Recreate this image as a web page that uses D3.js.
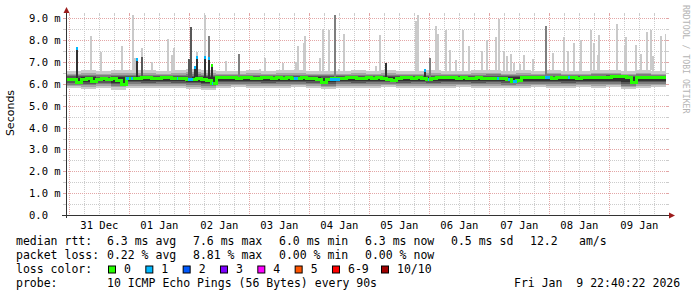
<!DOCTYPE html>
<html>
<head>
<meta charset="utf-8">
<script src="https://cdn.jsdelivr.net/npm/d3@7"></script>
<style>
body { margin: 0; background: #fff; }
svg { display: block; }
.mono { font-family: 'DejaVu Sans Mono', monospace; white-space: pre; fill: #000; }
</style>
</head>
<body>
<div class="chart"></div>
<script>
// SmokePing 10 day graph, 10 pings every 90s
const START = new Date(2025, 11, 30, 22, 40, 22)
const END = new Date(2026, 0, 9, 22, 40, 22)

// median rtt (ms), one value every 2 hours
const MEDIAN = [
  6.22, 6.20, 6.08, 6.20, 6.24, 6.10, 6.22, 6.25, 6.20, 6.24,
  6.14, 5.97, 6.24, 6.27, 6.25, 6.28, 6.30, 6.26, 6.24, 6.28,
  6.30, 6.27, 6.25, 6.27, 6.22, 6.20, 6.24, 6.22, 6.18, 6.02,
  6.30, 6.32, 6.28, 6.30, 6.27, 6.29, 6.31, 6.27, 6.25, 6.28,
  6.30, 6.26, 6.28, 6.25, 6.28, 6.26, 6.24, 6.28, 6.27, 6.25,
  6.20, 6.08, 6.20, 6.25, 6.27, 6.26, 6.28, 6.30, 6.27, 6.25,
  6.28, 6.26, 6.28, 6.24, 6.22, 6.18, 6.25, 6.28, 6.30, 6.27,
  6.29, 6.26, 6.22, 6.27, 6.30, 6.28, 6.31, 6.28, 6.26, 6.29,
  6.27, 6.25, 6.28, 6.26, 6.24, 6.27, 6.25, 6.24, 6.22, 6.12,
  6.16, 6.28, 6.30, 6.28, 6.31, 6.29, 6.30, 6.27, 6.29, 6.31,
  6.28, 6.30, 6.27, 6.29, 6.31, 6.28, 6.30, 6.32, 6.29, 6.33,
  6.35, 6.33, 6.30, 6.05, 6.28, 6.30, 6.28, 6.30, 6.29, 6.28
]

// sorted pings p1 (fastest) .. p10 (slowest), one value every 6 hours
const P1 = [5.80,5.78,5.82,5.74,5.83,5.82,5.82,5.80,5.76,5.72,5.83,5.84,5.82,5.82,5.83,5.84,5.82,5.76,5.83,5.82,
            5.83,5.84,5.82,5.83,5.82,5.83,5.84,5.82,5.83,5.80,5.83,5.84,5.83,5.82,5.84,5.83,5.84,5.76,5.83,5.84]
const P2 = [5.90,5.88,5.92,5.85,5.93,5.92,5.93,5.91,5.88,5.83,5.93,5.94,5.93,5.92,5.93,5.94,5.92,5.86,5.93,5.92,
            5.93,5.94,5.92,5.93,5.92,5.93,5.94,5.92,5.93,5.90,5.93,5.94,5.93,5.92,5.94,5.93,5.94,5.86,5.93,5.94]
const P3 = [5.97,5.95,5.99,5.92,6.00,5.99,6.00,5.98,5.95,5.90,6.00,6.01,6.00,5.99,6.00,6.01,5.99,5.93,6.00,5.99,
            6.00,6.01,5.99,6.00,5.99,6.00,6.01,5.99,6.00,5.97,6.00,6.01,6.00,5.99,6.01,6.00,6.01,5.93,6.00,6.01]
const P4 = [6.04,6.02,6.06,5.98,6.07,6.06,6.07,6.05,6.03,5.98,6.07,6.08,6.07,6.06,6.07,6.08,6.06,6.00,6.07,6.06,
            6.07,6.08,6.06,6.07,6.06,6.07,6.08,6.06,6.07,6.04,6.07,6.08,6.07,6.06,6.08,6.07,6.08,6.00,6.07,6.08]
const P5 = [6.12,6.10,6.14,6.06,6.15,6.14,6.15,6.13,6.11,6.06,6.15,6.16,6.15,6.14,6.15,6.16,6.14,6.08,6.15,6.14,
            6.15,6.16,6.14,6.15,6.14,6.15,6.16,6.14,6.15,6.12,6.15,6.16,6.15,6.14,6.16,6.15,6.16,6.08,6.15,6.16]
const P6 = [6.29,6.30,6.28,6.31,6.30,6.31,6.29,6.31,6.32,6.30,6.30,6.29,6.31,6.30,6.31,6.31,6.30,6.29,6.30,6.31,
            6.29,6.31,6.30,6.29,6.31,6.30,6.29,6.31,6.32,6.30,6.31,6.30,6.32,6.31,6.30,6.32,6.34,6.31,6.32,6.30]
const P7 = [6.35,6.36,6.34,6.37,6.36,6.37,6.35,6.37,6.38,6.36,6.36,6.35,6.37,6.36,6.37,6.37,6.36,6.35,6.36,6.37,
            6.35,6.37,6.36,6.35,6.37,6.36,6.35,6.37,6.38,6.36,6.37,6.36,6.38,6.37,6.36,6.38,6.40,6.37,6.38,6.36]
const P8 = [6.41,6.42,6.40,6.43,6.42,6.43,6.41,6.43,6.45,6.42,6.42,6.41,6.43,6.42,6.43,6.43,6.42,6.41,6.42,6.43,
            6.41,6.43,6.42,6.41,6.43,6.42,6.41,6.43,6.44,6.42,6.43,6.42,6.44,6.43,6.42,6.44,6.46,6.43,6.44,6.42]
const P9 = [6.48,6.50,6.48,6.52,6.50,6.52,6.48,6.52,6.54,6.50,6.48,6.47,6.50,6.48,6.50,6.50,6.48,6.47,6.48,6.50,
            6.47,6.50,6.48,6.47,6.50,6.48,6.47,6.50,6.52,6.48,6.50,6.47,6.50,6.48,6.47,6.50,6.52,6.48,6.50,6.47]
const P10 = [6.58,6.62,6.60,6.66,6.62,6.64,6.60,6.66,6.68,6.62,6.60,6.58,6.62,6.60,6.64,6.62,6.60,6.58,6.60,6.62,
             6.58,6.62,6.60,6.58,6.62,6.60,6.58,6.62,6.64,6.60,6.62,6.58,6.62,6.60,6.58,6.62,6.64,6.60,6.62,6.58]

// slowest ping peaks: hours after start, ms
const PEAK_T = [9.4, 13.6, 22.0, 26.2, 27.2, 29.9, 34.0, 40.4, 42.0, 42.6, 48.6, 52.0, 55.1, 56.6, 63.6,
                77.2, 79.0, 86.2, 91.6, 92.2, 94.6, 95.2, 101.2, 102.4, 104.8, 108.6, 110.6, 123.6, 125.2,
                139.4, 140.2, 145.2, 147.6, 148.2, 151.6, 153.2, 155.7, 158.3, 160.7, 166.0, 168.0, 171.6,
                172.8, 174.7, 175.8, 177.6, 178.8, 181.0, 182.8, 186.5, 191.6, 194.4, 198.6, 200.3, 202.7,
                205.2, 205.6, 209.5, 210.7, 212.5, 212.9, 214.9, 219.1, 220.1, 223.2, 223.6, 227.5, 229.6,
                232.1, 233.4, 234.5, 237.6, 239.6]
const PEAK_V = [8.20, 7.48, 7.74, 9.30, 7.20, 7.66, 7.00, 8.06, 7.33, 7.66, 7.15, 7.48, 9.30, 7.50, 7.05,
                6.70, 7.20, 6.95, 7.00, 7.74, 7.90, 8.20, 7.20, 8.52, 8.46, 6.70, 8.30, 6.82, 8.25,
                8.90, 9.30, 6.87, 8.66, 8.30, 8.47, 7.56, 7.10, 8.47, 7.74, 7.51, 8.02, 8.15,
                8.98, 7.51, 7.28, 7.36, 6.98, 6.90, 7.33, 7.14, 7.36, 7.43, 8.14, 7.51, 7.90,
                7.02, 8.02, 8.47, 7.90, 7.33, 8.25, 6.64, 6.64, 8.75, 7.74, 8.14, 7.79, 7.36,
                8.40, 8.47, 7.30, 8.20, 8.30]

// several slow pings at once: hours, ms, rank of the ping reaching that value
const BURST_T = [29.9, 48.6, 49.4, 56.7, 68.8, 107.2, 127.6, 145.2, 191.4]
const BURST_V = [7.25, 7.15, 8.60, 8.20, 7.36, 9.30, 6.98, 7.20, 8.66]
const BURST_RANK = [7, 7, 7, 8, 8, 8, 6, 8, 8]

// median jumps: hours, ms, lost pings
const JUMP_T = [3.9, 28.0, 51.3, 52.0, 55.0, 56.7, 58.0, 143.2]
const JUMP_V = [7.64, 7.13, 6.80, 7.25, 7.25, 7.17, 6.87, 6.64]
const JUMP_LOSS = [1, 1, 1, 1, 1, 1, 0, 1]

// periods with packet loss: from hour, to hour, lost pings
const LOSS_FROM = [24.0, 26.0, 44.2, 48.8, 58.2, 91.2, 105.6, 144.6, 172.4, 176.8, 178.8, 191.6, 200.8]
const LOSS_TO = [25.2, 26.8, 44.8, 50.8, 58.8, 92.8, 109.6, 145.2, 172.8, 177.6, 180.4, 193.6, 201.6]
const LOSS_N = [1, 1, 1, 1, 1, 1, 1, 1, 1, 1, 1, 1, 1]

const Y_TICKS = [0, 1, 2, 3, 4, 5, 6, 7, 8, 9]
const Y_LABELS = ['0.0', '1.0 m', '2.0 m', '3.0 m', '4.0 m', '5.0 m', '6.0 m', '7.0 m', '8.0 m', '9.0 m']
const DAY_LABELS = ['31 Dec', '01 Jan', '02 Jan', '03 Jan', '04 Jan', '05 Jan', '06 Jan', '07 Jan', '08 Jan', '09 Jan']

const LOSS_KEYS = ['0', '1', '2', '3', '4', '5', '6-9', '10/10']
const LOSS_COLORS = ['#26ff00', '#00b8ff', '#0059ff', '#7e00ff', '#ff00ff', '#ff5500', '#ff0000', '#a10000']
const SMOKE_COLORS = ['#cacaca', '#a4a4a4', '#7e7e7e', '#585858', '#323232']

const RTT_STATS = ['6.3 ms avg', '7.6 ms max', '6.0 ms min', '6.3 ms now', '0.5 ms sd']
const LOSS_STATS = ['0.22 % avg', '8.81 % max', '0.00 % min', '0.00 % now']
const AMS = '12.2'
const PROBE = '10 ICMP Echo Pings (56 Bytes) every 90s'
const STAMP = 'Fri Jan  9 22:40:22 2026'

const PINGS = [P1, P2, P3, P4, P5, P6, P7, P8, P9, P10]

var svg = d3.select('.chart').append('svg')
    .attr('width', 697)
    .attr('height', 297)

svg.append('rect').attr('width', 697).attr('height', 297).attr('fill', '#fff')

var xScale = d3.scaleTime().domain([START, END]).range([66, 666])
var yScale = d3.scaleLinear().domain([0, 9.16]).range([215, 15])

var hr = h => new Date(START.getTime() + h * 3600e3)
var lossColor = n => LOSS_COLORS[n >= 10 ? 7 : n >= 6 ? 6 : n]
var medianAt = h => MEDIAN[Math.min(MEDIAN.length - 1, Math.floor(h / 2))]
var pingAt = (rank, h) => PINGS[rank - 1][Math.min(39, Math.floor(h / 6))]

svg.append('clipPath').attr('id', 'plot')
  .append('rect').attr('x', 66).attr('y', 15).attr('width', 600).attr('height', 200)

// grid
var grid = svg.append('g').attr('shape-rendering', 'crispEdges')
var minorV = d3.timeHour.every(6).range(START, END).filter(d => d.getHours() != 0)
var majorV = d3.timeDay.range(START, END)

function vline(d, color) {
    var px = Math.round(xScale(d)) + 0.5
    grid.append('line').attr('x1', px).attr('x2', px).attr('y1', 15).attr('y2', 215)
        .attr('stroke', color).attr('stroke-dasharray', '1,1')
    grid.append('line').attr('x1', px).attr('x2', px).attr('y1', 13).attr('y2', 15).attr('stroke', color)
}
function hline(v, color) {
    var py = Math.round(yScale(v)) + 0.5
    grid.append('line').attr('x1', 66).attr('x2', 666).attr('y1', py).attr('y2', py)
        .attr('stroke', color).attr('stroke-dasharray', '1,1')
    grid.append('line').attr('x1', 63).attr('x2', 66).attr('y1', py).attr('y2', py).attr('stroke', color)
    grid.append('line').attr('x1', 666).attr('x2', 669).attr('y1', py).attr('y2', py).attr('stroke', color)
}
minorV.forEach(d => vline(d, '#cccccc'))
Y_TICKS.slice(0, -1).forEach(v => hline(v + 0.5, '#cccccc'))
majorV.forEach(d => vline(d, '#e3a6a6'))
Y_TICKS.slice(1).forEach(v => hline(v, '#e3a6a6'))

// smoke
var plot = svg.append('g').attr('clip-path', 'url(#plot)').attr('shape-rendering', 'crispEdges')
var bins = P1.map((_, i) => i * 6).concat([240])

for (let k = 0; k < 5; k++) {
    var lo = PINGS[k], hi = PINGS[9 - k]
    plot.append('path')
        .datum(bins)
        .attr('fill', SMOKE_COLORS[k])
        .attr('d', d3.area()
            .curve(d3.curveStepAfter)
            .x(h => xScale(hr(h)))
            .y0(h => yScale(lo[Math.min(39, h / 6)]))
            .y1(h => yScale(hi[Math.min(39, h / 6)])))
}

plot.selectAll('.peak')
    .data(PEAK_T)
    .enter().append('rect')
    .attr('x', (t) => xScale(hr(t)))
    .attr('width', 2)
    .attr('y', (t, i) => yScale(PEAK_V[i]))
    .attr('height', (t, i) => yScale(pingAt(10, t)) - yScale(PEAK_V[i]))
    .attr('fill', SMOKE_COLORS[0])

var bursts = d3.range(BURST_T.length).sort((a, b) => BURST_RANK[b] - BURST_RANK[a])
plot.selectAll('.burst')
    .data(bursts)
    .enter().append('rect')
    .attr('x', i => xScale(hr(BURST_T[i])))
    .attr('width', i => BURST_T[i] == 48.6 ? 4 : 2)
    .attr('y', i => yScale(BURST_V[i]))
    .attr('height', i => yScale(medianAt(BURST_T[i])) - yScale(BURST_V[i]))
    .attr('fill', i => SMOKE_COLORS[10 - BURST_RANK[i]])

plot.selectAll('.jump')
    .data(JUMP_T)
    .enter().append('rect')
    .attr('x', t => xScale(hr(t)))
    .attr('width', 2)
    .attr('y', (t, i) => yScale(JUMP_V[i]))
    .attr('height', (t, i) => yScale(medianAt(t)) - yScale(JUMP_V[i]))
    .attr('fill', SMOKE_COLORS[4])

// median line
plot.append('path')
    .datum(MEDIAN.map((m, i) => i * 2).concat([240]))
    .attr('fill', 'none')
    .attr('stroke', LOSS_COLORS[0])
    .attr('stroke-width', 3)
    .attr('d', d3.line()
        .curve(d3.curveStepAfter)
        .x(h => xScale(hr(h)))
        .y(h => yScale(medianAt(h))))

plot.selectAll('.loss')
    .data(LOSS_FROM)
    .enter().append('rect')
    .attr('x', t => xScale(hr(t)))
    .attr('width', (t, i) => Math.max(1.5, xScale(hr(LOSS_TO[i])) - xScale(hr(t))))
    .attr('y', t => yScale(medianAt(t)) - 1.5)
    .attr('height', 3)
    .attr('fill', (t, i) => lossColor(LOSS_N[i]))

plot.selectAll('.cap')
    .data(JUMP_T)
    .enter().append('rect')
    .attr('x', t => xScale(hr(t)))
    .attr('width', 2)
    .attr('y', (t, i) => yScale(JUMP_V[i]) - 1)
    .attr('height', 3)
    .attr('fill', (t, i) => lossColor(JUMP_LOSS[i]))

// axes
var axis = svg.append('g').attr('shape-rendering', 'crispEdges')
axis.append('line').attr('x1', 66.5).attr('x2', 66.5).attr('y1', 218).attr('y2', 12).attr('stroke', '#333')
axis.append('line').attr('x1', 62).attr('x2', 670).attr('y1', 215.5).attr('y2', 215.5).attr('stroke', '#333')
svg.append('path').attr('d', 'M63.5,13L69.5,13L66.5,7Z').attr('fill', '#9c1c1c')
svg.append('path').attr('d', 'M669,212.5L669,218.5L675,215.5Z').attr('fill', '#9c1c1c')

svg.selectAll('.ylab')
    .data(Y_TICKS)
    .enter().append('text')
    .classed('mono', true)
    .attr('x', 29)
    .attr('y', v => yScale(v) + 4)
    .attr('font-size', '10.5px')
    .text((v, i) => Y_LABELS[i])

svg.selectAll('.xlab')
    .data(majorV)
    .enter().append('text')
    .classed('mono', true)
    .attr('x', d => xScale(d3.timeHour.offset(d, 12)))
    .attr('y', 229)
    .attr('text-anchor', 'middle')
    .attr('font-size', '10.5px')
    .text((d, i) => DAY_LABELS[i])

svg.append('text')
    .attr('transform', 'translate(14, 113) rotate(-90)')
    .attr('text-anchor', 'middle')
    .attr('font-family', 'DejaVu Sans, sans-serif')
    .attr('font-size', '11px')
    .text('Seconds')

svg.append('text')
    .classed('mono', true)
    .attr('transform', 'translate(683, 5) rotate(90)')
    .attr('font-size', '8.2px')
    .style('fill', '#b4b4b4')
    .text('RRDTOOL / TOBI OETIKER')

// legend
var legend = svg.append('g').classed('mono', true).attr('font-size', '11.5px')
function put(x, y, s) { legend.append('text').classed('mono', true).attr('x', x).attr('y', y).text(s) }

put(16, 244.5, 'median rtt:')
RTT_STATS.forEach((s, i) => put(107 + 86 * i, 244.5, s))
put(530, 244.5, AMS)
put(579, 244.5, 'am/s')

put(16, 258.5, 'packet loss:')
LOSS_STATS.forEach((s, i) => put(107 + 86 * i, 258.5, s))

put(16, 272.5, 'loss color:')
LOSS_KEYS.forEach((key, i) => {
    var lx = i < 7 ? 108.5 + 37.33 * i : 381.5
    legend.append('rect')
        .attr('x', lx).attr('y', 266).attr('width', 7).attr('height', 7)
        .attr('fill', LOSS_COLORS[i]).attr('stroke', '#000').attr('stroke-width', 1)
    put(lx + 15.5, 272.5, key)
})

put(16, 286.5, 'probe:')
put(107, 286.5, PROBE)
put(514, 286.5, STAMP)
</script>
</body>
</html>
